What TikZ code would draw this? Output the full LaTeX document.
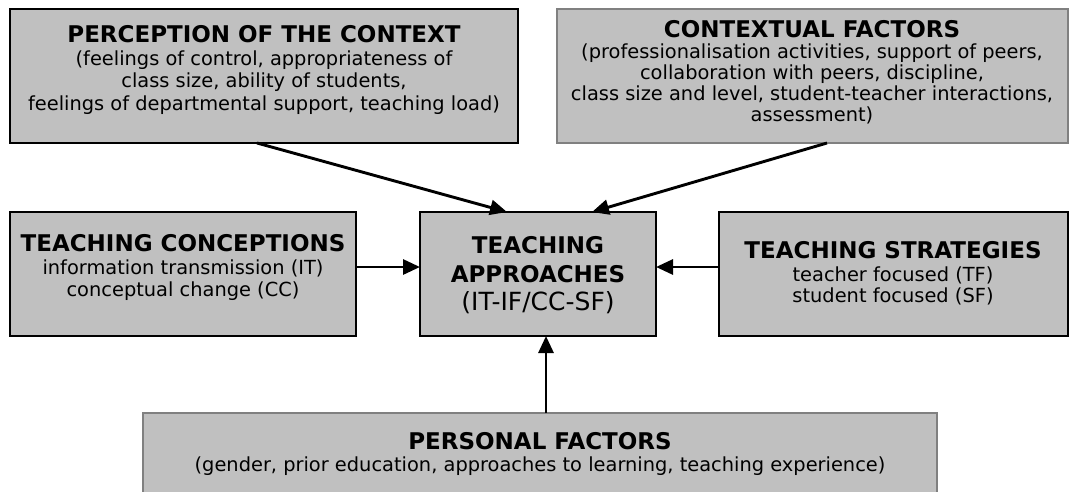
\documentclass[tikz,border=0pt]{standalone}
\usepackage{fontspec}
\setmainfont{DejaVu Sans}
\usetikzlibrary{arrows.meta}
\definecolor{boxfill}{HTML}{C0C0C0}
\definecolor{boxgray}{HTML}{808080}
\newcommand\bodyfont{\fontsize{19.4}{22}\selectfont}
\newcommand\ttlfont{\fontsize{23}{28}\selectfont\bfseries}
\newcommand\mylines[2][22.5pt]{\vtop{\baselineskip=#1\lineskiplimit=-100pt\lineskip=0pt\halign{\hfil##\hfil\cr#2\crcr}}}
\tikzset{
  box/.style={draw=black, line width=1.2pt, fill=boxfill, inner sep=0pt, outer sep=0pt, rectangle},
  graybox/.style={box, draw=boxgray},
  ttl/.style={inner sep=0pt, anchor=base, font=\ttlfont},
  body/.style={inner sep=0pt, anchor=base, font=\bodyfont},
  conn/.style={line width=2.9pt, -{Triangle[length=17pt,width=15pt]}}
}
\begin{document}
\begin{tikzpicture}[x=1pt,y=-1pt]
\useasboundingbox (0,0) rectangle (1070,491);
\clip (0,0) rectangle (1070,491);
\fill[white] (0,0) rectangle (1070,491);
% boxes
\node[box, minimum width=508pt, minimum height=134pt] (perc) at (264,76) {};
\node[graybox, minimum width=511pt, minimum height=134pt] (ctx) at (812.5,76) {};
\node[box, minimum width=346pt, minimum height=124pt] (conc) at (183,274) {};
\node[box, minimum width=236pt, minimum height=124pt] (appr) at (538,274) {};
\node[box, minimum width=349pt, minimum height=124pt] (strat) at (893.5,274) {};
\node[graybox, minimum width=794pt, minimum height=110pt] (pers) at (540,468) {};
% texts
\node[ttl] (percT) at (264,42.5) {PERCEPTION OF THE CONTEXT};
\node[body] (percB) at (264,65) {\mylines{(feelings of control, appropriateness of\cr class size, ability of students,\cr feelings of departmental support, teaching load)}};
\node[ttl] (ctxT) at (812,37) {CONTEXTUAL FACTORS};
\node[body] (ctxB) at (812,58) {\mylines[21pt]{(professionalisation activities, support of peers,\cr collaboration with peers, discipline,\cr class size and level, student-teacher interactions,\cr assessment)}};
\node[ttl] (concT) at (183,251.5) {TEACHING CONCEPTIONS};
\node[body] (concB) at (183,274) {\mylines{information transmission (IT)\cr conceptual change (CC)}};
\node[ttl] (apprT) at (538,253) {\mylines[29pt]{TEACHING\cr APPROACHES}};
\node[body, font=\fontsize{25}{28}\selectfont] (apprB) at (538,310) {(IT-IF/CC-SF)};
\node[ttl] (stratT) at (893,258) {TEACHING STRATEGIES};
\node[body] (stratB) at (893,281) {\mylines[21.5pt]{teacher focused (TF)\cr student focused (SF)}};
\node[ttl] (persT) at (540,449) {PERSONAL FACTORS};
\node[body] (persB) at (540,471) {(gender, prior education, approaches to learning, teaching experience)};
% connectors
\draw[conn] ([xshift=-7pt]perc.south) -- ([xshift=-31pt]appr.north);
\draw[conn] ([xshift=14.5pt]ctx.south) -- ([xshift=54pt]appr.north);
\draw[conn] ([yshift=7pt]conc.east) -- ([yshift=7pt]appr.west);
\draw[conn] ([yshift=7pt]strat.west) -- ([yshift=7pt]appr.east);
\draw[conn] ([xshift=6pt]pers.north) -- ([xshift=8pt]appr.south);
\end{tikzpicture}
\end{document}
